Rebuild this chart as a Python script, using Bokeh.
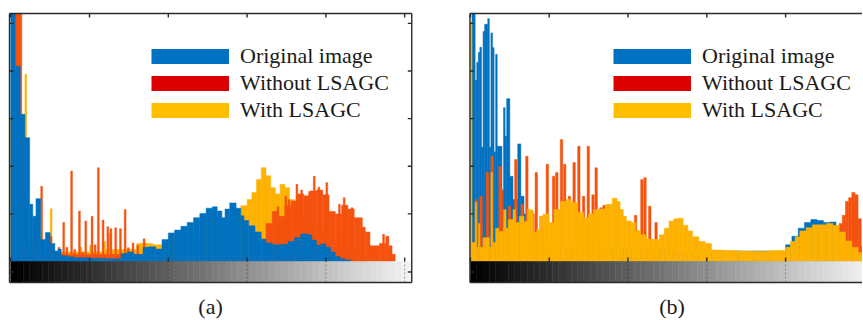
import numpy as np
from bokeh.plotting import figure
from bokeh.layouts import row
from bokeh.models import Range1d, Legend, LegendItem, Label, ColumnDataSource
from bokeh.embed import file_html
from bokeh.resources import INLINE

# ---------------- tick positions ----------------
level_ticks = [0, 50, 100, 150, 200, 250]
count_ticks = [1000, 2000, 3000, 4000, 5000]
cbar_tick = [-220]

series_names = ["Original image", "Without LSAGC", "With LSAGC"]

# ---------------- panel (a) ----------------
blue_a_lo = [0, 3, 6, 9, 12, 14, 16, 19, 22, 25, 28, 30, 32, 36, 40, 50, 60, 70, 74, 78,
             84, 88, 92, 96, 100, 104, 108, 112, 116, 120, 124, 128, 131, 134, 136, 139, 143, 146, 148, 151,
             155, 159, 162, 166, 171, 176, 180, 184, 188, 191, 194, 197, 200, 203, 206, 209, 212]
blue_a_cnt = [6000, 4100, 3090, 2600, 1200, 950, 1320, 460, 610, 380, 220, 260, 120, 100, 80, 70, 60, 170, 200, 150,
              300, 310, 260, 460, 600, 660, 740, 820, 920, 1010, 1120, 1150, 1060, 920, 1100, 1230, 1120, 960, 860, 750,
              620, 470, 390, 350, 360, 420, 500, 580, 560, 450, 340, 370, 300, 200, 110, 60, 30]
blue_a_end = 216

yellow_a_lo = [0, 3, 8, 9, 10, 20, 40, 60, 80, 90, 100, 120, 140, 146, 150, 153, 156, 159, 162, 165,
               168, 171, 174, 177, 180, 184, 190, 200, 210, 220]
yellow_a_cnt = [3000, 1500, 1500, 3930, 500, 200, 200, 250, 380, 350, 500, 900, 1100, 1170, 1300, 1450, 1720, 1970, 1800, 1550,
                1420, 1620, 1550, 1300, 1150, 900, 700, 500, 300, 150]
yellow_a_end = 230
yellow_a_spk_lvl = [25, 44, 50, 59, 62, 85]
yellow_a_spk_cnt = [1110, 300, 340, 420, 600, 390]

red_a_lo = [3, 7, 20, 90, 162, 166, 170, 174, 178, 182, 186, 190, 194, 198, 202, 206, 210, 214, 218, 222,
            225, 228, 234, 238, 240, 242]
red_a_cnt = [6000, 250, 150, 0, 800, 1050, 950, 1180, 1270, 1420, 1380, 1480, 1500, 1400, 1050, 1000, 1180, 1100, 920, 720,
             620, 330, 380, 530, 330, 150]
red_a_end = 244
red_a_spk_lvl = [19, 25, 30, 33, 35, 38, 40, 43, 45, 47, 51, 53, 55, 58, 61, 63, 66, 69, 72, 74,
                 77, 80, 84, 87, 169, 174, 176, 181, 184, 189, 192, 195, 200, 208, 211, 216, 222, 236]
red_a_spk_cnt = [1580, 530, 300, 820, 300, 1900, 250, 1060, 200, 850, 950, 350, 1970, 870, 730, 690, 710, 690, 1090, 290,
                 390, 340, 480, 300, 1150, 1370, 1300, 1620, 1500, 1470, 1790, 1560, 1660, 1200, 1340, 1130, 920, 570]

# ---------------- panel (b) ----------------
blue_b_lo = [0, 1, 3, 4, 5, 6, 7, 8, 9, 11, 12, 13, 14, 15, 16, 17, 20, 21, 22, 23,
             25, 27, 30, 32, 34, 36, 38, 40, 45, 50, 60, 80, 100, 130, 160, 190, 200, 204, 208, 212,
             216, 220, 224, 228, 232, 236]
blue_b_cnt = [0, 5400, 3800, 4180, 4390, 4500, 2400, 4830, 4980, 5100, 2400, 4800, 4490, 2300, 4350, 2420, 1500, 3230, 2630, 3420,
              1790, 1300, 2470, 1370, 1000, 800, 600, 450, 350, 300, 300, 300, 250, 200, 220, 200, 350, 530, 700, 820,
              880, 860, 820, 830, 700, 400]
blue_b_end = 240

yellow_b_lo = [0, 1, 3, 4, 5, 6, 8, 12, 13, 14, 16, 18, 21, 24, 28, 31, 34, 37, 40, 42,
               46, 50, 53, 57, 61, 64, 68, 72, 75, 78, 82, 86, 90, 93, 95, 97, 99, 102, 105, 108,
               112, 116, 120, 123, 126, 129, 132, 135, 138, 141, 145, 149, 153, 160, 170, 180, 190, 200, 203, 206,
               209, 213, 217, 221, 226, 230, 234, 238, 242, 246]
yellow_b_cnt = [5050, 400, 1240, 300, 800, 300, 500, 300, 1870, 400, 700, 630, 700, 880, 820, 950, 840, 1050, 610, 670,
                990, 820, 1090, 1260, 1300, 1240, 1030, 920, 1000, 1090, 1100, 1200, 1330, 1260, 1090, 950, 850, 820, 650, 560,
                470, 460, 560, 700, 850, 900, 910, 760, 640, 520, 420, 380, 240, 230, 220, 215, 230, 300, 420, 520,
                640, 710, 770, 770, 800, 760, 620, 430, 300, 190]
yellow_b_end = 250
yellow_b_spk_lvl = [21, 27, 36, 38, 44, 48]
yellow_b_spk_cnt = [1090, 1090, 1100, 1090, 950, 1000]

red_b_lo = [232, 234, 236, 238, 240, 242, 244, 246, 248]
red_b_cnt = [650, 800, 970, 1260, 1340, 1450, 1400, 900, 320]
red_b_end = 250
red_b_spk_lvl = [3, 6, 10, 13, 18, 19, 24, 28, 32, 35, 39, 41, 44, 48, 52, 54, 57, 59, 62, 65,
                 68, 71, 74, 77, 79, 82, 84, 104, 108, 110, 113, 117]
red_b_spk_cnt = [1300, 1370, 1870, 2210, 2000, 1500, 1160, 2140, 1200, 2210, 1000, 1870, 950, 2040, 1790, 1870, 2560, 2040, 1370, 2080,
                 2420, 1370, 2420, 1400, 1970, 1130, 1180, 970, 1720, 1760, 1160, 820]

# ---------------- styles ----------------
BLUE, RED, YELLOW = "#0071BE", "#F5520F", "#FDB200"
LEG_COLORS = ["#0070C0", "#DC0000", "#FFBE00"]
FRAME = "#2a2a2a"
FONT = "Liberation Serif"
Y_LO, Y_HI = -441, 5208          # box: colour bar bottom .. top edge
VIEW_LO, VIEW_HI = -1218, 5481   # whole canvas height (21 counts per px)
TICK_V = 84      # 4 px in count units
TICK_H = 2.5     # 4 px in grey-level units
LW = 1.4


def bin_source(lo, cnt, end):
    n = min(len(lo), len(cnt))
    lo = list(lo[:n])
    hi = lo[1:] + [end]
    tops = [min(c, Y_HI) for c in cnt[:n]]   # bars are cut at the top of the axes box
    return ColumnDataSource(dict(left=lo, right=hi, top=tops, bottom=[0] * n))


def spike_source(lv, cnt, w):
    n = min(len(lv), len(cnt))
    lv = list(lv[:n])
    tops = [min(c, Y_HI) for c in cnt[:n]]
    return ColumnDataSource(dict(left=lv, right=[v + w for v in lv], top=tops, bottom=[0] * n))


def panel(layers, view, box, width, legend_x, letter, letter_x, spike_w):
    bx0, bx1 = box
    p = figure(width=width, height=319, x_range=Range1d(*view), y_range=Range1d(VIEW_LO, VIEW_HI),
               output_backend="svg", toolbar_location=None, x_axis_type=None, y_axis_type=None,
               min_border_left=0, min_border_right=0, min_border_top=0, min_border_bottom=0,
               outline_line_color=None, background_fill_color="white", border_fill_color="white")
    p.xgrid.visible = False
    p.ygrid.visible = False

    # histogram layers in drawing order
    for color, lo, cnt, end, slv, scnt in layers:
        p.quad(left="left", right="right", top="top", bottom="bottom", source=bin_source(lo, cnt, end),
               fill_color=color, line_color=color, line_width=0.5)
        if slv:
            p.quad(left="left", right="right", top="top", bottom="bottom", source=spike_source(slv, scnt, spike_w),
                   fill_color=color, line_color=color, line_width=0.4)

    # grey-level colour bar under the histogram
    right_lim = bx1 if bx1 is not None else view[1]
    steps = list(range(0, 256, 4))
    greys = ["#%02x%02x%02x" % ((int(v * 245 / 252),) * 3) for v in steps]
    p.quad(left=steps, right=[min(s + 4, right_lim) for s in steps], top=[0] * len(steps),
           bottom=[Y_LO] * len(steps), fill_color=greys, line_color=greys, line_width=0.5)
    nt = len(level_ticks)
    p.segment(x0=level_ticks, x1=level_ticks, y0=[Y_LO] * nt, y1=[0] * nt,
              line_color="#000000", line_alpha=0.35, line_width=1, line_dash="2 2")

    # box edges
    p.segment(x0=[bx0, bx0], x1=[right_lim, right_lim], y0=[Y_HI, Y_LO], y1=[Y_HI, Y_LO], line_color=FRAME, line_width=LW)
    p.segment(x0=[bx0], x1=[bx0], y0=[Y_LO], y1=[Y_HI], line_color=FRAME, line_width=LW)
    if bx1 is not None:
        p.segment(x0=[bx1], x1=[bx1], y0=[Y_LO], y1=[Y_HI], line_color=FRAME, line_width=LW)

    # inward ticks: bottom of histogram, top edge, left and right edges
    p.segment(x0=level_ticks, x1=level_ticks, y0=[0] * nt, y1=[TICK_V] * nt, line_color=FRAME, line_width=LW)
    p.segment(x0=level_ticks, x1=level_ticks, y0=[Y_HI] * nt, y1=[Y_HI - TICK_V] * nt, line_color=FRAME, line_width=LW)
    yt = cbar_tick + count_ticks
    p.segment(x0=[bx0] * len(yt), x1=[bx0 + TICK_H] * len(yt), y0=yt, y1=yt, line_color=FRAME, line_width=LW)
    if bx1 is not None:
        p.segment(x0=[bx1] * len(yt), x1=[bx1 - TICK_H] * len(yt), y0=yt, y1=yt, line_color=FRAME, line_width=LW)

    # legend with dedicated swatches (thick line glyphs kept outside the visible range)
    items = []
    for name, col in zip(series_names, LEG_COLORS):
        r = p.line(x=[view[0] - 60, view[0] - 50], y=[0, 0], line_color=col, line_width=15, line_cap="butt")
        items.append(LegendItem(label=name, renderers=[r]))
    leg = Legend(items=items, location=(legend_x, 196), orientation="vertical",
                 glyph_width=78, glyph_height=26, label_height=26, label_standoff=11, spacing=1,
                 padding=0, margin=0, border_line_color=None, background_fill_alpha=0,
                 label_text_font=FONT, label_text_font_size="22px", label_text_color="#1a1a1a")
    p.add_layout(leg)

    # panel letter under the colour bar
    p.add_layout(Label(x=letter_x, y=Y_LO, y_offset=-24, text=letter, text_align="center", text_baseline="middle",
                       text_font=FONT, text_font_size="22px", text_color="#1a1a1a"))
    return p


pa = panel([(YELLOW, yellow_a_lo, yellow_a_cnt, yellow_a_end, yellow_a_spk_lvl, yellow_a_spk_cnt),
            (RED, red_a_lo, red_a_cnt, red_a_end, red_a_spk_lvl, red_a_spk_cnt),
            (BLUE, blue_a_lo, blue_a_cnt, blue_a_end, [], [])],
           (-6.51, 270.85), (-0.8, 254.5), 437, 151, "(a)", 126.8, 1.2)

pb = panel([(BLUE, blue_b_lo, blue_b_cnt, blue_b_end, [], []),
            (RED, red_b_lo, red_b_cnt, red_b_end, red_b_spk_lvl, red_b_spk_cnt),
            (YELLOW, yellow_b_lo, yellow_b_cnt, yellow_b_end, yellow_b_spk_lvl, yellow_b_spk_cnt)],
           (-20.9, 248.8), (-0.3, None), 425, 176, "(b)", 127.9, 1.6)

layout = row(pa, pb)
open("out.html", "w").write(file_html(layout, INLINE))
